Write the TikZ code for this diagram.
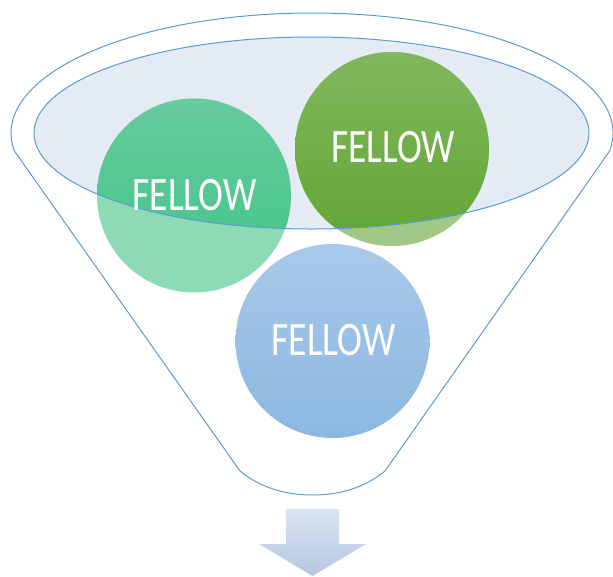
\documentclass[tikz,border=0pt]{standalone}
\usepackage{fontspec}
\setmainfont{Carlito}
\usepackage{graphicx}
\definecolor{lineblue}{HTML}{5B9BD5}
\definecolor{ellfill}{HTML}{E4EBF5}
\definecolor{tealTop}{HTML}{66CC9E}
\definecolor{tealBot}{HTML}{40C386}
\definecolor{tealLight}{HTML}{8DDAB7}
\definecolor{greenTop}{HTML}{80B85D}
\definecolor{greenBot}{HTML}{63A536}
\definecolor{greenLight}{HTML}{A1C887}
\definecolor{blueTop}{HTML}{A9C9EA}
\definecolor{blueBot}{HTML}{8CB7E0}
\definecolor{arrowTop}{HTML}{DAE4F2}
\definecolor{arrowBot}{HTML}{B4C7E0}
\tikzset{
  funnelline/.style={draw=lineblue, line width=1pt, line join=round},
  lbl/.style={text=white, inner sep=0pt, font=\fontsize{48}{48}\selectfont},
}
\newcommand{\fellowtext}{\scalebox{0.78}[1]{FELLOW}}
\begin{document}
\begin{tikzpicture}[x=1pt,y=-1pt]
\useasboundingbox (0,0) rectangle (613,576);
% funnel outline
\draw[funnelline] (14.4,151) -- (240,471)
  .. controls (262,489) and (288,495) .. (312.5,495)
  .. controls (337,495) and (363,489) .. (385,471)
  -- (609.6,151)
  arc[start angle=8.63, end angle=-188.63, x radius=301, y radius=120] -- cycle;
% inner ellipse fill
\fill[ellfill] (311.5,133) ellipse[x radius=277.5, y radius=96];
% light parts of circles
\fill[tealLight] (194,195.5) circle[radius=97];
\fill[greenLight] (392,149) circle[radius=97];
\begin{scope}
  \clip (311.5,133) ellipse[x radius=277.5, y radius=96];
  \shade[top color=tealTop, bottom color=tealBot] (194,195.5) circle[radius=97];
  \shade[top color=greenTop, bottom color=greenBot] (392,149) circle[radius=97];
\end{scope}
% blue circle
\shade[top color=blueTop, bottom color=blueBot] (332.5,341) circle[radius=97];
% inner ellipse outline
\draw[funnelline] (311.5,133) ellipse[x radius=277.5, y radius=96];
% labels
\node[lbl] (t1) at (194.5,195) {\fellowtext};
\node[lbl] (t2) at (393,147.5) {\fellowtext};
\node[lbl] (t3) at (333.5,340) {\fellowtext};
% arrow
\shade[top color=arrowTop, bottom color=arrowBot] (286,509) -- (339,509) -- (339,544) -- (366,544) -- (312.5,576) -- (259,544) -- (286,544) -- cycle;
\end{tikzpicture}
\end{document}
